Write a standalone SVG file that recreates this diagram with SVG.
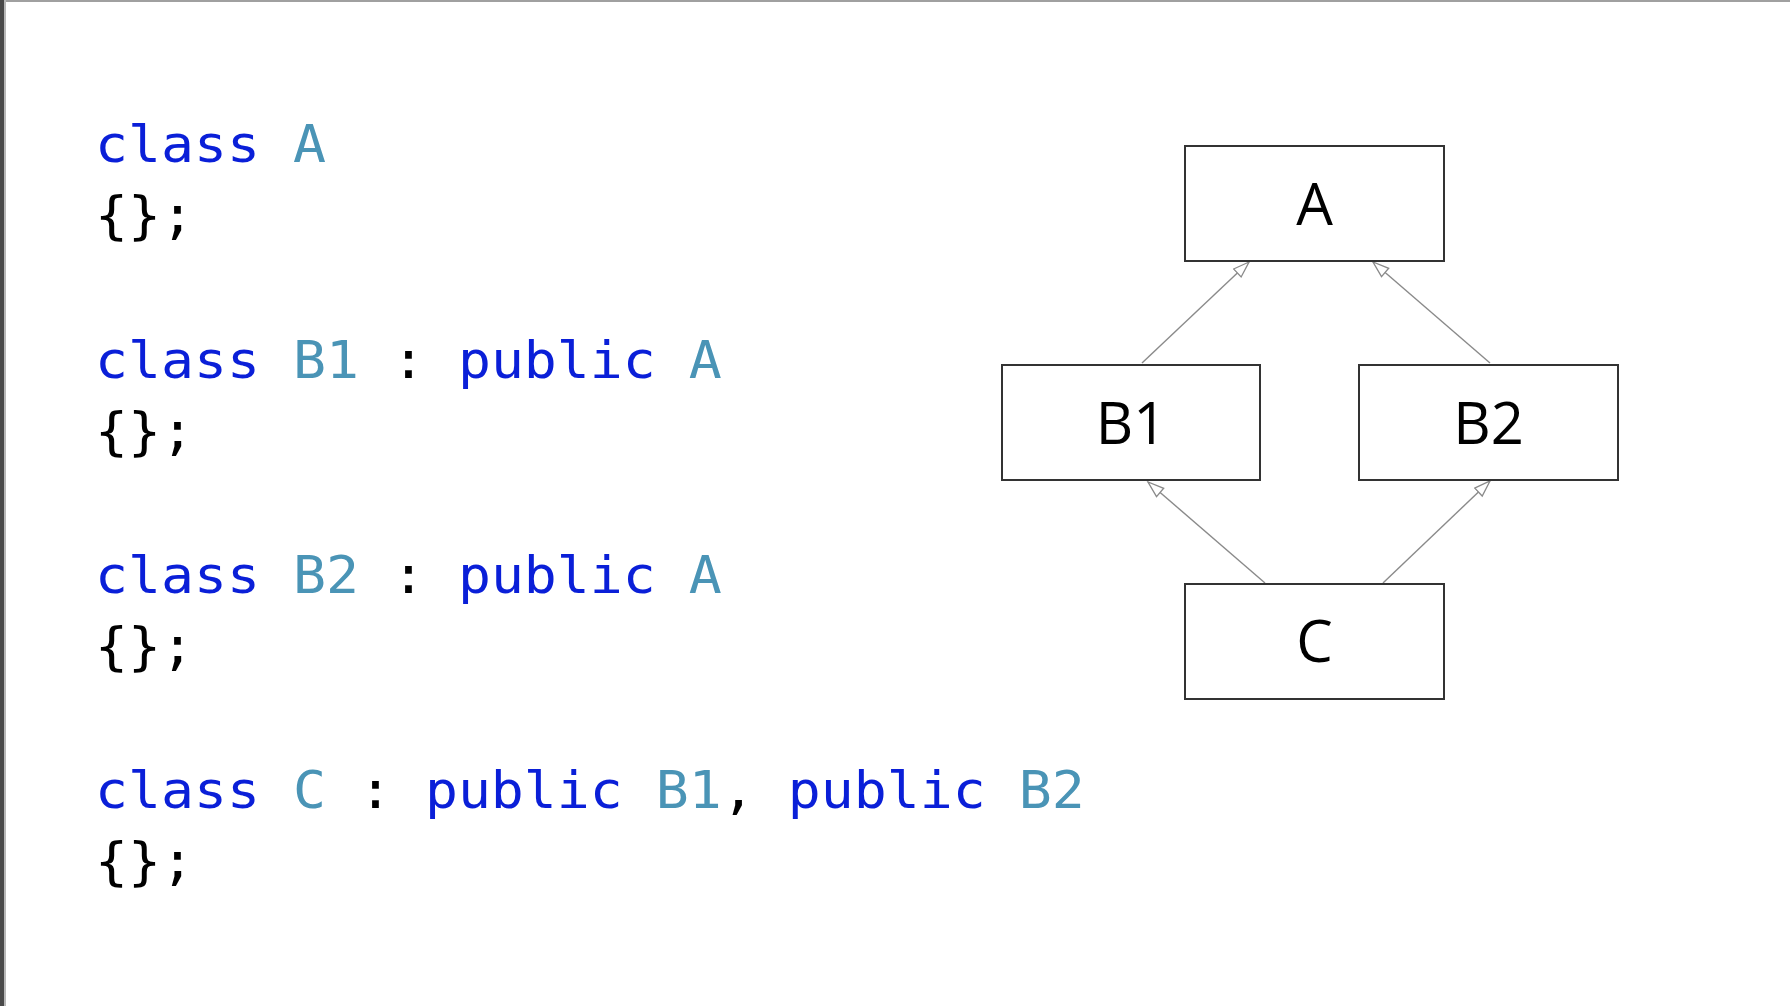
<svg xmlns="http://www.w3.org/2000/svg" width="1790" height="1006" viewBox="0 0 1790 1006">
<style>
.code{font-family:"DejaVu Sans Mono","Liberation Mono",monospace;font-size:52px;fill:#000}
.kw{fill:#0a1fd8}
.ty{fill:#4a94b6}
.box{fill:#fff;stroke:#333;stroke-width:2}
.lbl{font-family:"Open Sans","Noto Sans","Liberation Sans",sans-serif;font-size:58px;fill:#000;text-anchor:middle}
.edge{stroke:#8a8a8a;stroke-width:1.4;fill:none;marker-end:url(#tri)}
</style>
<defs>
<marker id="tri" markerUnits="userSpaceOnUse" markerWidth="20" markerHeight="14" refX="17" refY="6.5" orient="auto" viewBox="0 0 20 14">
<path d="M1,1 L17,6.5 L1,12 Z" fill="#fff" stroke="#8a8a8a" stroke-width="1.3"/>
</marker>
</defs>
<rect x="0" y="0" width="1790" height="1006" fill="#fff"/>
<rect x="0" y="0" width="1790" height="2" fill="#a0a0a0"/>
<rect x="0" y="0" width="4" height="1006" fill="#4a4a4a"/>
<rect x="4" y="0" width="2" height="1006" fill="#b8b8b8"/>

<g id="code" transform="translate(95,0) scale(1.054,1)">
<text class="code" x="0" y="162"><tspan class="kw">class</tspan><tspan class="ty"> A</tspan></text>
<text class="code" x="0" y="233">{};</text>
<text class="code" x="0" y="378"><tspan class="kw">class</tspan><tspan class="ty"> B1</tspan><tspan> :</tspan><tspan class="kw"> public</tspan><tspan class="ty"> A</tspan></text>
<text class="code" x="0" y="449">{};</text>
<text class="code" x="0" y="593"><tspan class="kw">class</tspan><tspan class="ty"> B2</tspan><tspan> :</tspan><tspan class="kw"> public</tspan><tspan class="ty"> A</tspan></text>
<text class="code" x="0" y="664">{};</text>
<text class="code" x="0" y="808"><tspan class="kw">class</tspan><tspan class="ty"> C</tspan><tspan> :</tspan><tspan class="kw"> public</tspan><tspan class="ty"> B1</tspan><tspan>,</tspan><tspan class="kw"> public</tspan><tspan class="ty"> B2</tspan></text>
<text class="code" x="0" y="879">{};</text>
</g>

<g id="connectors">
<line class="edge" x1="1142" y1="363" x2="1249" y2="262"/>
<line class="edge" x1="1490" y1="363" x2="1373" y2="262"/>
<line class="edge" x1="1265" y1="583" x2="1148" y2="482"/>
<line class="edge" x1="1383" y1="583" x2="1490" y2="481"/>
</g>

<g id="node-A">
<rect class="box" x="1185" y="146" width="259" height="115"/>
<text class="lbl" x="1314.5" y="225">A</text>
</g>
<g id="node-B1">
<rect class="box" x="1002" y="365" width="258" height="115"/>
<text class="lbl" x="1131" y="444">B1</text>
</g>
<g id="node-B2">
<rect class="box" x="1359" y="365" width="259" height="115"/>
<text class="lbl" x="1488.5" y="444">B2</text>
</g>
<g id="node-C">
<rect class="box" x="1185" y="584" width="259" height="115"/>
<text class="lbl" x="1314.5" y="662">C</text>
</g>
</svg>
